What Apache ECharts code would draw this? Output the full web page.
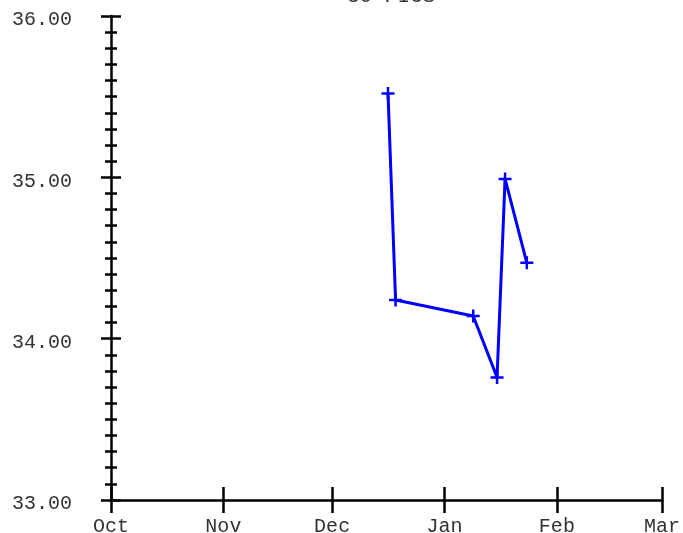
<!DOCTYPE html>
<html>
<head>
<meta charset="utf-8">
<script src="https://cdn.jsdelivr.net/npm/echarts@6/dist/echarts.min.js"></script>
<style>html,body{margin:0;padding:0;background:#fff;}#c{width:683px;height:533px;}</style>
</head>
<body>
<div id="c"></div>
<script>
var titleText = '30 PICS';
var dates = ['2003-12-16T10:00', '2003-12-18T12:00', '2004-01-08T22:00', '2004-01-15T12:00', '2004-01-17T17:00', '2004-01-23T17:00'];
var values = [35.52, 34.24, 34.14, 33.76, 34.99, 34.47];
var xMin = '2003-10-01T00:00';
var xMax = '2004-03-01T00:00';
var yMin = 33, yMax = 36, yStep = 1;

var FONT = 'Liberation Mono';
var chart = echarts.init(document.getElementById('c'), null, {renderer: 'canvas'});
var DAY = 86400000;
var common = {
  type: 'time', min: xMin, max: xMax,
  minInterval: 28 * DAY, maxInterval: 31 * DAY,
  splitLine: {show: false}
};
chart.setOption({
  animation: false,
  backgroundColor: '#fff',
  title: {text: titleText, left: 347, top: -14, padding: 0,
    textStyle: {fontFamily: FONT, fontSize: 21, fontWeight: 'normal', color: '#333'}},
  grid: {left: 111, right: 21, top: 16, bottom: 33, outerBoundsMode: 'none', containLabel: false},
  xAxis: [
    Object.assign({}, common, {
      position: 'bottom',
      axisLine: {show: true, lineStyle: {color: '#000', width: 2.5}},
      axisTick: {show: true, inside: false, length: 13, lineStyle: {color: '#000', width: 2.5}},
      axisLabel: {show: true, formatter: '{MMM}', margin: 17, fontFamily: FONT, fontSize: 20, color: '#333',
        showMinLabel: true, showMaxLabel: true}
    }),
    Object.assign({}, common, {
      position: 'bottom',
      axisLine: {show: false},
      axisTick: {show: true, inside: true, length: 13, lineStyle: {color: '#000', width: 2.5}},
      axisLabel: {show: false}
    })
  ],
  yAxis: [
    {
      type: 'value', min: yMin, max: yMax, interval: yStep, position: 'left',
      axisLine: {show: true, onZero: false, lineStyle: {color: '#000', width: 2.5}},
      axisTick: {show: true, inside: false, length: 10, lineStyle: {color: '#000', width: 2.5}},
      minorTick: {show: true, splitNumber: 10, length: 6, lineStyle: {color: '#000', width: 2.5}},
      splitLine: {show: false},
      axisLabel: {show: true, margin: 39, fontFamily: FONT, fontSize: 20, color: '#333',
        verticalAlign: 'top', lineHeight: 8,
        formatter: function (v) { return v.toFixed(2); }}
    },
    {
      type: 'value', min: yMin, max: yMax, interval: yStep, position: 'left',
      axisLine: {show: false},
      axisTick: {show: true, inside: true, length: 10, lineStyle: {color: '#000', width: 2.5}},
      minorTick: {show: true, splitNumber: 10, length: 6, lineStyle: {color: '#000', width: 2.5}},
      splitLine: {show: false},
      axisLabel: {show: false}
    }
  ],
  series: [{
    type: 'line',
    xAxisIndex: 0, yAxisIndex: 0,
    data: dates.map(function (d, i) { return [d, values[i]]; }),
    lineStyle: {color: '#0000ff', width: 3},
    itemStyle: {color: '#0000ff'},
    symbol: 'path://M5.25,0 H7.75 V5.25 H13 V7.75 H7.75 V13 H5.25 V7.75 H0 V5.25 H5.25 Z',
    symbolSize: 13,
    showAllSymbol: true
  }]
});
</script>
</body>
</html>
